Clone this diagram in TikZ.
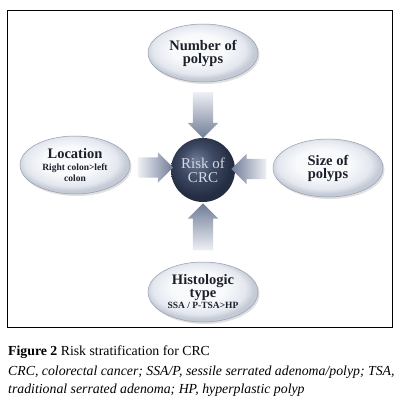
\documentclass[tikz,border=0pt]{standalone}
\usepackage{fontspec}
\setmainfont{Liberation Serif}
\usetikzlibrary{shapes.geometric, shapes.arrows, shadows, calc}

\definecolor{ovalline}{RGB}{150, 158, 174}
\definecolor{ovalrim}{RGB}{196, 202, 214}
\definecolor{ovalmid}{RGB}{228, 232, 239}
\definecolor{ovallight}{RGB}{249, 250, 252}
\definecolor{ovaltext}{RGB}{28, 32, 42}
\definecolor{arrowlight}{RGB}{238, 240, 245}
\definecolor{arrowdark}{RGB}{112, 124, 150}
\definecolor{riskdark}{RGB}{36, 45, 66}
\definecolor{riskmid}{RGB}{62, 74, 100}
\definecolor{risklight}{RGB}{112, 124, 150}
\definecolor{risktext}{RGB}{212, 216, 224}

\newcommand{\detailfont}{\fontsize{9.5}{9}\selectfont}

\pgfdeclareradialshading{ovalshade}{\pgfpoint{-3bp}{5bp}}{%
  color(0bp)=(ovallight); color(12bp)=(ovallight); color(21bp)=(ovalmid);
  color(25bp)=(ovalrim); color(50bp)=(ovalrim)}
\pgfdeclareradialshading{riskshade}{\pgfpoint{-6bp}{8bp}}{%
  color(0bp)=(risklight); color(13bp)=(riskmid); color(25bp)=(riskdark);
  color(50bp)=(riskdark)}

\tikzset{
  factor/.style={ellipse, draw=ovalline, line width=0.5pt, shading=ovalshade,
    minimum width=110pt, minimum height=58pt, inner sep=0pt, align=center,
    text=ovaltext, font=\fontsize{14.5}{13}\selectfont\bfseries,
    drop shadow={opacity=0.25, shadow xshift=1.5pt, shadow yshift=-2pt}},
  blockarrow/.style={single arrow, minimum width=30pt, single arrow head extend=5pt,
    inner sep=10pt, draw=none},
  caption/.style={anchor=base west, inner sep=0pt, font=\fontsize{13.8}{15}\selectfont}
}

\begin{document}
\begin{tikzpicture}[x=1pt, y=-1pt]
        \fill[white] (0,0) rectangle (401,406);
        \useasboundingbox (0,0) rectangle (401,406);
        \draw[line width=0.8pt] (7,10) rectangle (392,327);

        % Centre
        \node[circle, shading=riskshade, minimum size=64pt, inner sep=0pt, align=center,
              text=risktext, font=\fontsize{15}{14}\selectfont] (risk) at (203,170) {Risk of\\CRC};

        % Factors
        \node[factor] (num) at (203,53) {Number of\\polyps};
        \node[factor] (loc) at (75,165) {Location\\[-1pt]{\detailfont Right colon>left}\\[-2pt]{\detailfont colon}};
        \node[factor] (size) at (328,168) {Size of\\polyps};
        \node[factor, minimum height=60pt] (hist) at (203,292) {Histologic\\type\\[-2pt]{\detailfont SSA / P-TSA>HP}};

        % Arrows into the centre
        \node[blockarrow, minimum height=46pt, shape border rotate=270, top color=arrowlight, bottom color=arrowdark]
            (a-num) at ($(num.south)!0.5!(risk.north)$) {};
        \node[blockarrow, minimum height=35pt, left color=arrowlight, right color=arrowdark]
            (a-loc) at ($(loc.east)!0.5!(risk.west)$) {};
        \node[blockarrow, minimum height=35pt, shape border rotate=180, left color=arrowdark, right color=arrowlight]
            (a-size) at ($(size.west)!0.5!(risk.east)$) {};
        \node[blockarrow, minimum height=47pt, shape border rotate=90, top color=arrowdark, bottom color=arrowlight]
            (a-hist) at ($(hist.north)!0.5!(risk.south)$) {};

        % Caption
        \node[caption] (title) at (8,355) {\textbf{Figure 2} Risk stratification for CRC};
        \node[caption, font=\fontsize{13.8}{15}\selectfont\itshape] (abbr1) at (8,375)
            {CRC, colorectal cancer; SSA/P, sessile serrated adenoma/polyp; TSA,};
        \node[caption, font=\fontsize{13.8}{15}\selectfont\itshape] (abbr2) at (8,393)
            {traditional serrated adenoma; HP, hyperplastic polyp};
\end{tikzpicture}
\end{document}
